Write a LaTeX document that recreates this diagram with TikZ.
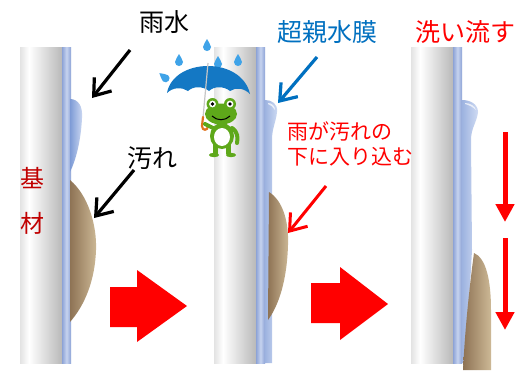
\documentclass[tikz,border=0pt]{standalone}
\usepackage{fontspec}
\setmainfont{Noto Sans CJK JP}
\usetikzlibrary{arrows.meta}

\definecolor{filmblue}{HTML}{0070C0}
\definecolor{darkred}{HTML}{C00000}
\definecolor{stripblue}{HTML}{8DA3D6}
\definecolor{stripmid}{HTML}{C6D3EF}
\definecolor{filmdark}{HTML}{9DB3E0}
\definecolor{filmlight}{HTML}{CFDBF3}
\definecolor{dropdark}{HTML}{7E9BD6}
\definecolor{dirtdark}{HTML}{8E7355}
\definecolor{dirtlight}{HTML}{CDB996}
\definecolor{frog}{HTML}{5EA81A}
\definecolor{umb}{HTML}{1478C4}
\definecolor{rain}{HTML}{3FA3E8}
\definecolor{hook}{HTML}{E0731E}

\tikzset{
  jtext/.style={inner sep=0pt, font=\fontsize{25}{30}\selectfont},
  callout/.style={line width=3.2pt, -{Straight Barb[length=15pt,width=22pt]}},
  flowdown/.style={red, line width=5pt, -{Triangle[length=18pt,width=18pt]}},
  bigarrow/.style={fill=red},
  wallfade/.style={left color=gray!22, right color=white},
  wallbody/.style={left color=white, right color=gray!55},
  wallstrip/.style={left color=stripblue, right color=stripblue, middle color=stripmid},
  film/.style={left color=filmdark, right color=filmlight},
  dirt/.style={left color=dirtdark, right color=dirtlight},
  raindrop/.pic={\fill[rain] (0,-6) .. controls (1,-3) and (4,-1) .. (4,2)
      .. controls (4,4.5) and (2,6) .. (0,6) .. controls (-2,6) and (-4,4.5) .. (-4,2)
      .. controls (-4,-1) and (-1,-3) .. (0,-6) -- cycle;}
}

\begin{document}
\begin{tikzpicture}[x=1pt,y=-1pt]
\useasboundingbox (0,0) rectangle (517,370);
\fill[white] (0,0) rectangle (517,370);

% three walls (substrate with its surface strip)
\foreach \x in {20,214,411} {
  \shade[wallfade] (\x,47) rectangle (\x+9,363);
  \shade[wallbody] (\x+9,47) rectangle (\x+42,363);
  \shade[wallstrip] (\x+42,47) rectangle (\x+51,363);
}

% stage 1: water drop and dirt on the plain surface
\shade[left color=dropdark, right color=filmlight]
  (70,99) .. controls (78,99) and (83,106) .. (82,118)
  .. controls (81,140) and (76,160) .. (70,172) -- cycle;
\shade[dirt] (70,180) .. controls (88,195) and (97,225) .. (96,250)
  .. controls (95,280) and (85,305) .. (70,322) -- cycle;

% stage 2: hydrophilic film spreading under the dirt
\shade[film] (265,100) .. controls (272,100) and (278,104) .. (277,112)
  .. controls (276,122) and (272,128) .. (272,140) -- (272,363) -- (265,363) -- cycle;
\fill[white, opacity=0.7] (268,103) .. controls (272,103) and (275,106) .. (275,110)
  .. controls (273,107) and (271,105) .. (268,104) -- cycle;
\shade[dirt] (269,192) .. controls (282,200) and (289,220) .. (288,245)
  .. controls (287,280) and (279,305) .. (268,320) -- cycle;

% stage 3: dirt lifted and carried down
\shade[film] (462,100) .. controls (470,100) and (478,104) .. (478,112)
  .. controls (477,122) and (471,128) .. (471,140) -- (472,250)
  .. controls (470,290) and (467,330) .. (465,363) -- (462,363) -- cycle;
\fill[white, opacity=0.7] (465,103) .. controls (470,103) and (475,106) .. (476,110)
  .. controls (473,107) and (469,105) .. (465,104) -- cycle;
\shade[dirt] (474,253) .. controls (486,258) and (491,280) .. (491,310)
  -- (491,370) -- (463,370) .. controls (465,330) and (469,290) .. (474,253) -- cycle;

% block arrows between the stages
\fill[bigarrow] (110,287) -- (137,287) -- (137,270) -- (187,306) -- (137,342)
  -- (137,327) -- (110,327) -- cycle;
\fill[bigarrow] (311,283) -- (340,283) -- (340,267) -- (388,304) -- (340,340)
  -- (340,323) -- (311,323) -- cycle;

% frog under an umbrella
\pic at (207,45) {raindrop};
\pic at (179,60) {raindrop};
\pic at (218,62) {raindrop};
\pic at (238,60) {raindrop};
\pic[rotate=50] at (164,77) {raindrop};
\fill[umb] (167,93) .. controls (170,76) and (188,66) .. (208,66)
  .. controls (228,66) and (246,76) .. (250,94)
  .. controls (244,88) and (236,87) .. (230,91)
  .. controls (224,86) and (214,86) .. (209,91)
  .. controls (203,86) and (193,86) .. (188,91)
  .. controls (182,87) and (173,87) .. (167,93) -- cycle;
\draw[gray!45, line width=1.2pt] (208,63) -- (203,118);
\draw[hook, line width=2.2pt, line cap=round] (203,117) -- (202,126)
  .. controls (202,131) and (208,131) .. (208,126);
% body
\fill[frog] (222,136) ellipse [x radius=12, y radius=13];
\fill[frog] (213,142) rectangle (218,154);
\fill[frog] (226,142) rectangle (231,154);
\fill[frog] (214,155) ellipse [x radius=5, y radius=2.2];
\fill[frog] (231,155) ellipse [x radius=5, y radius=2.2];
\draw[frog, line width=4pt, line cap=round] (232,128) .. controls (238,132) and (238,138) .. (237,143);
\draw[frog, line width=4pt, line cap=round] (213,128) -- (205,124);
\fill[white] (222,137) ellipse [x radius=8, y radius=9];
% head
\fill[frog] (221,114) ellipse [x radius=16, y radius=10.5];
\foreach \ex in {212.5,230} {
  \fill[frog] (\ex,104) circle [radius=6];
  \fill[white] (\ex,104) circle [radius=3.4];
  \fill[black] (\ex,104) circle [radius=1.8];
}
\draw[black, line width=1pt] (212,116) .. controls (217,121) and (225,121) .. (230,116);

% labels
\node[jtext] (rainLabel) at (164,22) {雨水};
\node[jtext] (dirtLabel) at (152,158) {汚れ};
\node[inner sep=0pt, text=darkred, align=center, font=\fontsize{24}{45}\selectfont]
  (baseLabel) at (32,201) {基\\材};
\node[jtext, text=filmblue] (filmLabel) at (327,32) {超親水膜};
\node[jtext, text=red, anchor=west] (washLabel) at (415,32) {洗い流す};
\node[inner sep=0pt, text=red, anchor=north west, align=left, font=\fontsize{21}{25}\selectfont]
  (underLabel) at (287,122) {雨が汚れの\\下に入り込む};

% callout arrows
\coordinate (rainFrom) at (130,50);
\coordinate (rainTo) at (92,98);
\coordinate (dirtFrom) at (134,170);
\coordinate (dirtTo) at (94,218);
\coordinate (filmFrom) at (317,57);
\coordinate (filmTo) at (278,103);
\coordinate (underFrom) at (326,186);
\coordinate (underTo) at (288,233);
\draw[callout] (rainFrom) -- (rainTo);
\draw[callout] (dirtFrom) -- (dirtTo);
\draw[callout, filmblue] (filmFrom) -- (filmTo);
\draw[callout, red, line width=3pt] (underFrom) -- (underTo);

% downward flow arrows
\coordinate (flowA1) at (505,132);
\coordinate (flowA2) at (505,222);
\coordinate (flowB1) at (505,238);
\coordinate (flowB2) at (505,330);
\draw[flowdown] (flowA1) -- (flowA2);
\draw[flowdown] (flowB1) -- (flowB2);
\end{tikzpicture}
\end{document}
